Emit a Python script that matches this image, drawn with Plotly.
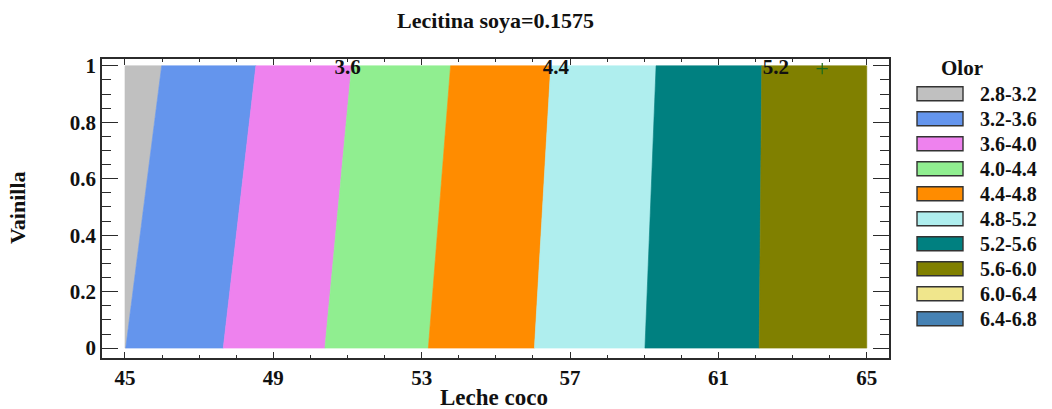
import plotly.graph_objects as go

# Contour bands of "Olor" over Leche coco (x) and Vainilla (y), Lecitina soya fixed at 0.1575
band_labels = ["2.8-3.2", "3.2-3.6", "3.6-4.0", "4.0-4.4", "4.4-4.8",
               "4.8-5.2", "5.2-5.6", "5.6-6.0", "6.0-6.4", "6.4-6.8"]
band_colors = ["#C0C0C0", "#6495ED", "#EE82EE", "#90EE90", "#FF8C00",
               "#AFEEEE", "#008080", "#808000", "#F0E68C", "#4682B4"]

# Band edges (Leche coco) along Vainilla = 0 and Vainilla = 1
edges_at_v0 = [45.0, 45.02, 47.65, 50.39, 53.18, 56.04, 59.02, 62.10, 65.0]
edges_at_v1 = [45.0, 45.99, 48.53, 51.11, 53.78, 56.48, 59.32, 62.17, 65.0]
vainilla_span = [0.0, 1.0]

# Level labels written along the top of the region
level_text = ["3.6", "4.4", "5.2"]
level_x = [51.0, 56.62, 62.55]
level_y = [0.989, 0.989, 0.989]

# Marked point
point_x = [63.80]
point_y = [0.99]

W, H = 1052, 409
L, R, T, B = 102, 889, 59, 358   # plotting frame in pixels


def px(xp):
    return (xp - L) / (R - L)


def py(yp):
    return (B - yp) / (B - T)


SERIF = "Liberation Serif"
INK = "#2b2b2b"
TXT = "#111111"

fig = go.Figure()

n_drawn = len(edges_at_v0) - 1
for i in range(n_drawn):
    v0, v1 = vainilla_span
    xs = [edges_at_v0[i], edges_at_v0[i + 1], edges_at_v1[i + 1], edges_at_v1[i], edges_at_v0[i]]
    ys = [v0, v0, v1, v1, v0]
    fig.add_trace(go.Scatter(
        x=xs, y=ys, mode="lines", fill="toself",
        fillcolor=band_colors[i],
        line=dict(color=band_colors[i], width=0.6),
        name=band_labels[i], showlegend=False, hoverinfo="skip",
    ))

fig.add_trace(go.Scatter(
    x=point_x, y=point_y, mode="markers",
    marker=dict(symbol="cross-thin", size=8, line=dict(color="#1a6b1a", width=1.2)),
    showlegend=False, hoverinfo="skip",
))

fig.add_trace(go.Scatter(
    x=level_x, y=level_y, mode="text", text=level_text,
    textfont=dict(family=SERIF, size=21, color=TXT, weight="bold"),
    textposition="middle center", showlegend=False, hoverinfo="skip",
))

axis_common = dict(
    showgrid=False, zeroline=False,
    showline=True, linecolor=INK, linewidth=1.6, mirror="ticks",
    ticks="inside", tickcolor=INK, tickwidth=1.3,
    tickfont=dict(family=SERIF, size=21, color=TXT, weight="bold"),
)

fig.update_xaxes(
    range=[44.38, 65.60], tick0=45, dtick=4, ticklen=6,
    minor=dict(dtick=1, ticks="inside", ticklen=3.5, tickcolor=INK, tickwidth=1.2),
    **axis_common,
)
fig.update_yaxes(
    range=[-0.035, 1.024], tick0=0, dtick=0.2, ticklen=16,
    minor=dict(dtick=0.05, ticks="inside", ticklen=9, tickcolor=INK, tickwidth=1.2),
    **axis_common,
)

annotations = [
    dict(text="Leche coco", xref="paper", yref="paper", x=px(494), y=py(397.5),
         xanchor="center", yanchor="middle", showarrow=False,
         font=dict(family=SERIF, size=23, color=TXT, weight="bold")),
    dict(text="Vainilla", xref="paper", yref="paper", x=px(17.5), y=py(207.5),
         xanchor="center", yanchor="middle", showarrow=False, textangle=-90,
         font=dict(family=SERIF, size=22, color=TXT, weight="bold")),
    dict(text="Olor", xref="paper", yref="paper", x=px(962), y=py(67.5),
         xanchor="center", yanchor="middle", showarrow=False,
         font=dict(family=SERIF, size=21, color=TXT, weight="bold")),
]

shapes = []
for k, (lab, col) in enumerate(zip(band_labels, band_colors)):
    cy = 93.7 + 25 * k
    shapes.append(dict(
        type="rect", xref="paper", yref="paper",
        x0=px(917), x1=px(963), y0=py(cy + 7), y1=py(cy - 7),
        fillcolor=col, line=dict(color="#333333", width=1.4),
    ))
    annotations.append(dict(
        text=lab, xref="paper", yref="paper", x=px(978), y=py(cy),
        xanchor="left", yanchor="middle", showarrow=False,
        font=dict(family=SERIF, size=20, color=TXT, weight="bold"),
    ))

fig.update_layout(
    width=W, height=H,
    margin=dict(l=L, r=W - R, t=T, b=H - B, pad=0),
    paper_bgcolor="white", plot_bgcolor="white",
    title=dict(text="Lecitina soya=0.1575", x=(L + R) / 2 / W, xanchor="center",
               y=1 - 20 / H, yanchor="middle",
               font=dict(family=SERIF, size=22, color=TXT, weight="bold")),
    annotations=annotations, shapes=shapes,
)

fig.write_html("out.html")
